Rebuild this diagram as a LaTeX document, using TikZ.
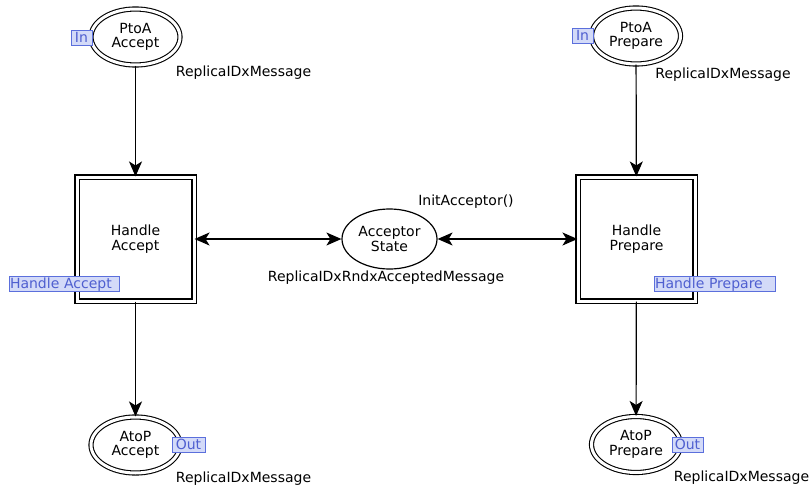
\documentclass[tikz,border=0pt]{standalone}
\usepackage{fontspec}
\setmainfont{DejaVu Sans}
\usetikzlibrary{shapes.geometric,arrows.meta}
\definecolor{tagfill}{HTML}{D3DAF8}
\definecolor{tagline}{HTML}{5B6FDC}
\definecolor{tagtext}{HTML}{4F5FD0}
\begin{document}
\begin{tikzpicture}[x=1pt,y=-1pt,
  font=\fontsize{14}{14.5}\selectfont,
  line width=1.2pt,
  place/.style={ellipse,draw,double,double distance=3pt,line width=1.1pt,
    minimum width=89pt,minimum height=56pt,inner sep=0pt,align=center},
  state/.style={ellipse,draw,minimum width=95pt,minimum height=60pt,
    inner sep=0pt,align=center},
  trans/.style={rectangle,draw,double,double distance=3pt,line width=1.1pt,
    minimum width=117pt,minimum height=124pt,inner sep=0pt,align=center},
  tag/.style={rectangle,draw=tagline,fill=tagfill,text=tagtext,line width=0.9pt,
    inner sep=1pt,minimum height=15pt,text height=11pt,text depth=2pt},
  lbl/.style={inner sep=0pt},
  arc/.style={-{Stealth[length=15pt,width=13pt,inset=4pt]}},
  biarc/.style={{Stealth[length=15pt,width=13pt,inset=4pt]}-{Stealth[length=15pt,width=13pt,inset=4pt]}},
]
\useasboundingbox (0,0) rectangle (812,490);

% places
\node[place] (pa) at (135.5,37) {PtoA\\Accept};
\node[place] (pp) at (636,36) {PtoA\\Prepare};
\node[place] (aa) at (135.5,445) {AtoP\\Accept};
\node[place] (ap) at (636,444.5) {AtoP\\Prepare};
\node[state] (st) at (389.5,239) {Acceptor\\State};

% transitions
\node[trans] (ha) at (135.5,239) {Handle\\Accept};
\node[trans] (hp) at (636.5,239) {Handle\\Prepare};

% port tags
\node[tag,minimum width=21pt] (tin1) at (81.5,37.5) {In};
\node[tag,minimum width=21pt] (tin2) at (582.5,35.5) {In};
\node[tag,minimum width=33pt] (tout1) at (188.5,444.5) {Out};
\node[tag,minimum width=31pt] (tout2) at (687.5,444.5) {Out};
\node[tag,text width=108pt,align=left] (tha) at (64,283.5) {Handle Accept};
\node[tag,text width=119pt,align=left] (thp) at (714.5,283.5) {Handle Prepare};

% colour sets and initial marking
\node[lbl] (c1) at (243.5,73) {ReplicaIDxMessage};
\node[lbl] (c2) at (723,75) {ReplicaIDxMessage};
\node[lbl] (c3) at (243.5,479) {ReplicaIDxMessage};
\node[lbl] (c4) at (741.5,478) {ReplicaIDxMessage};
\node[lbl] (c5) at (386,278) {ReplicaIDxRndxAcceptedMessage};
\node[lbl] (im) at (466,202) {InitAcceptor()};

% arcs
\draw[arc] (pa) -- (ha);
\draw[arc] (ha) -- (aa);
\draw[arc] (pp) -- (hp);
\draw[arc] (hp) -- (ap);
\draw[biarc] (ha) -- (st);
\draw[biarc] (st) -- (hp);

\end{tikzpicture}
\end{document}
